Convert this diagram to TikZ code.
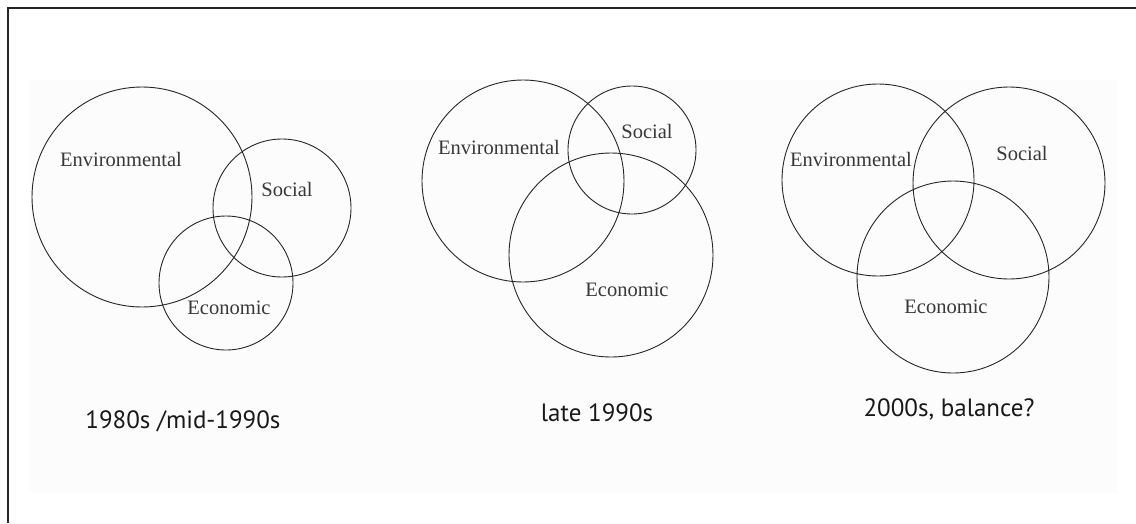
\documentclass[tikz,border=0pt]{standalone}
\usepackage{fontspec}
\setmainfont{Liberation Serif}
\newfontfamily\capfont{PT Sans}
\begin{document}
\begin{tikzpicture}[x=1pt,y=-1pt,
  ring/.style={draw=black!85,line width=0.9pt},
  lbl/.style={font=\fontsize{20.5}{24}\selectfont,text=black!78,inner sep=0pt},
  captext/.style={font=\capfont\fontsize{25}{30}\selectfont,text=black!90,inner sep=0pt}]
\useasboundingbox (0,0) rectangle (1136,523);
\fill[white] (0,0) rectangle (1136,523);
\fill[black!1.2] (30,80) rectangle (1118,493);
\draw[black!85,line width=1.4pt] (8,523) -- (8,8) -- (1136,8);
% panel 1
\node[ring,circle,minimum size=220pt,inner sep=0pt] (e1) at (142,197) {};
\node[ring,circle,minimum size=138pt,inner sep=0pt] (s1) at (282,208) {};
\node[ring,circle,minimum size=134pt,inner sep=0pt] (c1) at (226,283) {};
\node[lbl] (le1) at (121,159) {Environmental};
\node[lbl] (ls1) at (287,189) {Social};
\node[lbl] (lc1) at (229,308) {Economic};
\node[captext] (t1) at (183,421) {1980s /mid-1990s};
% panel 2
\node[ring,circle,minimum size=202pt,inner sep=0pt] (e2) at (523,181) {};
\node[ring,circle,minimum size=128pt,inner sep=0pt] (s2) at (632,150) {};
\node[ring,circle,minimum size=204pt,inner sep=0pt] (c2) at (611,255) {};
\node[lbl] (le2) at (499,147) {Environmental};
\node[lbl] (ls2) at (647,131) {Social};
\node[lbl] (lc2) at (627,290) {Economic};
\node[captext] (t2) at (597,413) {late 1990s};
% panel 3
\node[ring,circle,minimum size=192pt,inner sep=0pt] (e3) at (878,180) {};
\node[ring,circle,minimum size=192pt,inner sep=0pt] (s3) at (1009,183) {};
\node[ring,circle,minimum size=192pt,inner sep=0pt] (c3) at (953,277) {};
\node[lbl] (le3) at (851,159) {Environmental};
\node[lbl] (ls3) at (1022,153) {Social};
\node[lbl] (lc3) at (946,307) {Economic};
\node[captext] (t3) at (949,409) {2000s, balance?};
\end{tikzpicture}
\end{document}
